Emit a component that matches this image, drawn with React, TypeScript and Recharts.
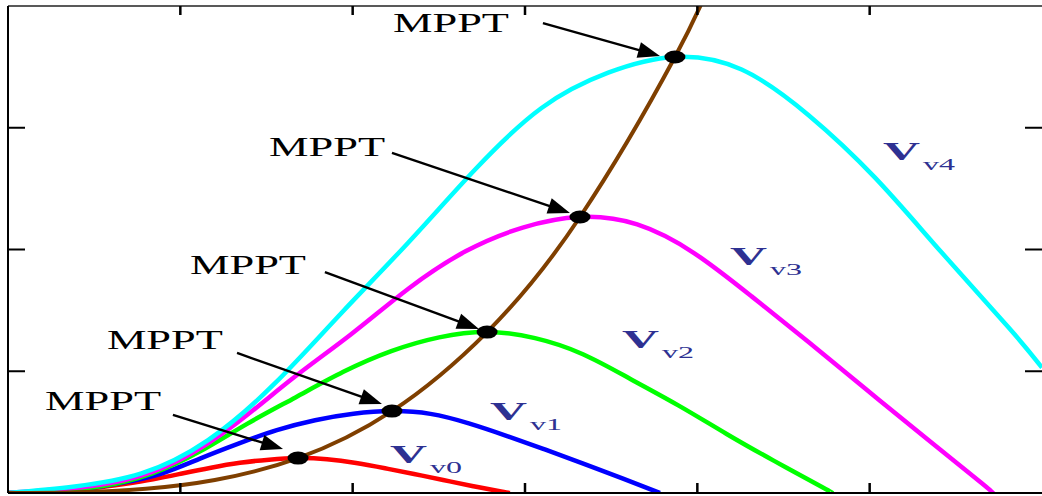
import React from 'react';
import { ComposedChart, Line, XAxis, YAxis, ReferenceLine, ReferenceDot } from 'recharts';

// Rotor speed (x) and turbine power (y) for each wind speed curve
const vv0Speed = [0, 0.168, 0.337, 0.505, 0.673, 0.842, 1.01, 1.178, 1.346, 1.515, 1.683, 1.851, 2.02, 2.188, 2.356, 2.525, 2.693, 2.861, 2.913];
const vv0Power = [0, 0.008, 0.025, 0.042, 0.073, 0.112, 0.16, 0.208, 0.248, 0.274, 0.287, 0.277, 0.246, 0.203, 0.156, 0.107, 0.058, 0.012, 0];

const vv1Speed = [0, 0.223, 0.446, 0.668, 0.891, 1.114, 1.337, 1.56, 1.782, 2.005, 2.228, 2.451, 2.674, 2.896, 3.119, 3.342, 3.565, 3.783];
const vv1Power = [0, 0.012, 0.035, 0.085, 0.16, 0.282, 0.405, 0.516, 0.598, 0.651, 0.673, 0.65, 0.572, 0.468, 0.356, 0.24, 0.12, 0];

const vv2Speed = [0, 0.278, 0.556, 0.834, 1.112, 1.39, 1.668, 1.946, 2.224, 2.502, 2.78, 3.058, 3.336, 3.614, 3.892, 4.17, 4.448, 4.726, 4.782];
const vv2Power = [0, 0.02, 0.059, 0.159, 0.34, 0.57, 0.785, 0.995, 1.165, 1.278, 1.322, 1.272, 1.14, 0.935, 0.718, 0.485, 0.262, 0.048, 0];

const vv3Speed = [0, 0.332, 0.664, 0.996, 1.328, 1.66, 1.991, 2.323, 2.655, 2.987, 3.319, 3.651, 3.983, 4.315, 4.647, 4.979, 5.31, 5.642, 5.716];
const vv3Power = [0, 0.034, 0.102, 0.272, 0.575, 0.95, 1.304, 1.678, 1.985, 2.18, 2.267, 2.206, 1.969, 1.615, 1.238, 0.852, 0.47, 0.091, 0];

const vv4Speed = [0, 0.387, 0.774, 1.161, 1.548, 1.935, 2.322, 2.709, 3.096, 3.483, 3.87, 4.257, 4.644, 5.031, 5.418, 5.805, 6.0];
const vv4Power = [0, 0.054, 0.161, 0.435, 0.9, 1.479, 2.056, 2.655, 3.162, 3.452, 3.581, 3.478, 3.105, 2.59, 1.975, 1.362, 1.03];

// Optimal power trajectory through the maximum points
const mpptSpeed = [0, 0.4, 0.8, 1.2, 1.683, 2.228, 2.78, 3.319, 3.87, 4.1];
const mpptPower = [0, 0.006, 0.035, 0.107, 0.287, 0.673, 1.322, 2.267, 3.581, 4.27];

// Axis tick positions
const xTicks = [1, 2, 3, 4, 5];
const yTicks = [1, 2, 3];

// Curve names and colours
const curveNames = ['v0', 'v1', 'v2', 'v3', 'v4'];
const curveColors = ['#ff0000', '#0000ff', '#00ff00', '#ff00ff', '#00ffff'];

// Curve name anchors (x, y)
const nameX = [2.217, 2.797, 3.563, 4.19, 5.077];
const nameY = [0.246, 0.6, 1.191, 1.873, 2.735];

// "MPPT" annotation text anchors and arrow tail / tip points
const mpptTextX = [0.215, 0.574, 1.056, 1.515, 2.234];
const mpptTextY = [0.682, 1.183, 1.799, 2.768, 3.786];
const arrowTailX = [0.957, 1.329, 1.839, 2.228, 3.104];
const arrowTailY = [0.641, 1.15, 1.815, 2.793, 3.86];
const arrowTipX = [1.596, 2.17, 2.733, 3.261, 3.783];
const arrowTipY = [0.361, 0.731, 1.347, 2.3, 3.589];

const zip = (xs: number[], ys: number[]) => xs.map((x, i) => ({ x, y: ys[i] }));

const curves = [
  zip(vv0Speed, vv0Power),
  zip(vv1Speed, vv1Power),
  zip(vv2Speed, vv2Power),
  zip(vv3Speed, vv3Power),
  zip(vv4Speed, vv4Power),
];
const mpptCurve = zip(mpptSpeed, mpptPower);

// Maximum power point of each curve
const peaks = curves.map((pts) => pts.reduce((best, p) => (p.y > best.y ? p : best), pts[0]));

const SERIF = '"Liberation Serif", "Times New Roman", serif';
const NAME_COLOR = '#2e3192';

// Tick labels are not shown, only the tick marks
const NoLabel = () => <g />;

const Arrow = (p: any) => {
  const { x1, y1, x2, y2 } = p;
  if ([x1, y1, x2, y2].some((v) => typeof v !== 'number' || isNaN(v))) return <g />;
  const dx = x2 - x1;
  const dy = y2 - y1;
  const len = Math.hypot(dx, dy);
  const ux = dx / len;
  const uy = dy / len;
  const head = 22;
  const half = 8;
  const bx = x2 - ux * head;
  const by = y2 - uy * head;
  const px = -uy * half;
  const py = ux * half;
  return (
    <g>
      <line x1={x1} y1={y1} x2={bx + ux * 3} y2={by + uy * 3} stroke="#000" strokeWidth={2.4} />
      <polygon points={`${x2},${y2} ${bx + px},${by + py} ${bx - px},${by - py}`} fill="#000" />
    </g>
  );
};

const MpptDot = (p: any) => <ellipse cx={p.cx} cy={p.cy} rx={10.5} ry={6.5} fill="#000" />;

const MpptText = (p: any) => (
  <text
    x={p.cx}
    y={p.cy}
    fontFamily={SERIF}
    fontSize={27}
    fill="#000"
    textLength={116}
    lengthAdjust="spacingAndGlyphs"
  >
    MPPT
  </text>
);

const makeName = (sub: string) => (p: any) => (
  <g>
    <text
      x={p.cx}
      y={p.cy}
      fontFamily={SERIF}
      fontSize={26}
      fontWeight="bold"
      fill={NAME_COLOR}
      textLength={37}
      lengthAdjust="spacingAndGlyphs"
    >
      V
    </text>
    <text
      x={p.cx + 40}
      y={p.cy + 10}
      fontFamily={SERIF}
      fontSize={16}
      fill={NAME_COLOR}
      textLength={32}
      lengthAdjust="spacingAndGlyphs"
    >
      {sub}
    </text>
  </g>
);

export default function App() {
  return (
    <div style={{ position: 'absolute', left: 0, top: 0, width: 1042, height: 496, background: '#fff' }}>
      <ComposedChart width={1042} height={496} margin={{ top: 6, right: 0, bottom: 3, left: 8 }}>
        <XAxis
          xAxisId={0}
          dataKey="x"
          type="number"
          domain={[0, 6]}
          allowDataOverflow
          ticks={xTicks}
          interval={0}
          mirror
          tick={NoLabel}
          tickSize={10}
          tickLine={{ stroke: '#000', strokeWidth: 2.5 }}
          axisLine={{ stroke: '#000', strokeWidth: 2 }}
        />
        <XAxis
          xAxisId="top"
          orientation="top"
          dataKey="x"
          type="number"
          domain={[0, 6]}
          allowDataOverflow
          ticks={xTicks}
          interval={0}
          mirror
          tick={NoLabel}
          tickSize={9}
          tickLine={{ stroke: '#000', strokeWidth: 2.5 }}
          axisLine={{ stroke: '#222', strokeWidth: 1.5 }}
        />
        <YAxis
          yAxisId={0}
          type="number"
          domain={[0, 4]}
          allowDataOverflow
          ticks={yTicks}
          interval={0}
          mirror
          tick={NoLabel}
          tickSize={17}
          tickLine={{ stroke: '#000', strokeWidth: 2 }}
          axisLine={{ stroke: '#000', strokeWidth: 2 }}
        />
        <YAxis
          yAxisId="right"
          orientation="right"
          type="number"
          domain={[0, 4]}
          allowDataOverflow
          ticks={yTicks}
          interval={0}
          mirror
          tick={NoLabel}
          tickSize={17}
          tickLine={{ stroke: '#000', strokeWidth: 2 }}
          axisLine={false}
        />

        {curves.map((pts, i) => (
          <Line
            key={curveNames[i]}
            data={pts}
            dataKey="y"
            type="natural"
            stroke={curveColors[i]}
            strokeWidth={4.5}
            dot={false}
            activeDot={false}
            isAnimationActive={false}
          />
        ))}
        <Line
          data={mpptCurve}
          dataKey="y"
          type="natural"
          stroke="#7f3f00"
          strokeWidth={4}
          dot={false}
          activeDot={false}
          isAnimationActive={false}
        />

        {peaks.map((p, i) => (
          <ReferenceDot key={`dot-${i}`} x={p.x} y={p.y} r={8} shape={MpptDot} />
        ))}

        {arrowTailX.map((_, i) => (
          <ReferenceLine
            key={`arrow-${i}`}
            segment={[
              { x: arrowTailX[i], y: arrowTailY[i] },
              { x: arrowTipX[i], y: arrowTipY[i] },
            ]}
            shape={Arrow}
          />
        ))}

        {mpptTextX.map((_, i) => (
          <ReferenceDot key={`mppt-${i}`} x={mpptTextX[i]} y={mpptTextY[i]} r={1} shape={MpptText} />
        ))}

        {curveNames.map((n, i) => (
          <ReferenceDot key={`name-${n}`} x={nameX[i]} y={nameY[i]} r={1} shape={makeName(n)} />
        ))}
      </ComposedChart>
    </div>
  );
}
